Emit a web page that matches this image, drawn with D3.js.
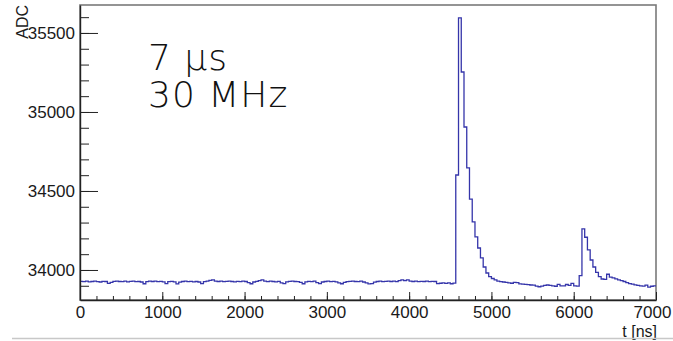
<!DOCTYPE html>
<html>
<head>
<meta charset="utf-8">
<script src="https://cdn.jsdelivr.net/npm/d3@7"></script>
<style>
  body { margin: 0; background: #fff; }
  svg { display: block; }
</style>
</head>
<body>
<svg id="chart"></svg>
<script>
let w = 673;
let h = 341;

// histogram: 210 bins over 0..7000 ns
const tMin = 0;
const tMax = 7000;
const adc = [
  33928, 33926, 33929, 33925, 33927, 33930, 33926, 33924, 33928, 33927,
  33915, 33922, 33928, 33930, 33927, 33926, 33929, 33925, 33928, 33930,
  33926, 33927, 33924, 33913, 33926, 33929, 33927, 33930, 33926, 33928,
  33925, 33914, 33926, 33928, 33925, 33912, 33923, 33927, 33929, 33926,
  33928, 33925, 33927, 33924, 33914, 33926, 33930, 33934, 33938, 33930,
  33927, 33929, 33926, 33928, 33930, 33927, 33925, 33928, 33926, 33929,
  33927, 33920, 33913, 33924, 33928, 33932, 33937, 33930, 33926, 33929,
  33927, 33925, 33928, 33919, 33914, 33925, 33928, 33930, 33927, 33926,
  33922, 33913, 33925, 33928, 33926, 33929, 33920, 33914, 33924, 33927,
  33929, 33926, 33928, 33925, 33919, 33913, 33922, 33926, 33928, 33930,
  33927, 33926, 33929, 33924, 33918, 33912, 33914, 33923, 33927, 33929,
  33926, 33928, 33930, 33927, 33929, 33926, 33933, 33937, 33932, 33938,
  33930, 33927, 33929, 33926, 33928, 33927, 33930, 33926, 33928, 33927,
  33914, 33916, 33919, 33915, 33918, 33913, 33917, 34601, 35595, 35253,
  34905, 34646, 34449, 34304, 34209, 34139, 34076, 34019, 33981, 33958,
  33946, 33937, 33930, 33926, 33924, 33922, 33918, 33916, 33922, 33920,
  33912, 33911, 33909, 33907, 33905, 33904, 33898, 33894, 33898, 33902,
  33905, 33903, 33899, 33897, 33909, 33900, 33899, 33908, 33902, 33915,
  33900, 33898, 33964, 34260, 34207, 34127, 34063, 34019, 33985, 33958,
  33943, 33940, 33973, 33955, 33950, 33944, 33938, 33932, 33927, 33920,
  33914, 33910, 33906, 33902, 33900, 33898, 33904, 33892, 33897, 33900
];

const yMajor = [34000, 34500, 35000, 35500];
const yMinor = d3.range(33900, 35700, 100);
const xMajor = [0, 1000, 2000, 3000, 4000, 5000, 6000, 7000];
const xMinor = d3.range(0, 7001, 200);
const yDomain = [33810, 35677];

const note = ['7 µs', '30 MHz'];

const margin = {left: 80, right: 17, top: 5, bottom: 41};
const pw = w - margin.left - margin.right;
const ph = h - margin.top - margin.bottom;

const svg = d3.select('#chart')
  .attr('width', w)
  .attr('height', h);

const xScale = d3.scaleLinear().domain([tMin, tMax]).range([0, pw]);
const yScale = d3.scaleLinear().domain(yDomain).range([ph, 0]);

const g = svg.append('g')
  .attr('transform', `translate(${margin.left},${margin.top})`);

// frame
g.append('rect')
  .attr('width', pw)
  .attr('height', ph)
  .attr('fill', 'none')
  .attr('stroke', '#7a7a7a')
  .attr('stroke-width', 1.6);

// histogram outline
const binW = (tMax - tMin) / adc.length;
const pts = adc.map((v, i) => [tMin + i * binW, v]);
pts.push([tMax, adc[adc.length - 1]]);

const line = d3.line()
  .x(d => xScale(d[0]))
  .y(d => yScale(d[1]))
  .curve(d3.curveStepAfter);

g.append('path')
  .datum(pts)
  .attr('d', line)
  .attr('fill', 'none')
  .attr('stroke', '#3535aa')
  .attr('stroke-width', 1.3);

// y axis (ticks pointing inward)
const yMinorAxis = g.append('g')
  .call(d3.axisLeft(yScale).tickValues(yMinor).tickSize(-9).tickFormat(''));
yMinorAxis.select('.domain').remove();

const yAxisGroup = g.append('g')
  .call(d3.axisLeft(yScale).tickValues(yMajor).tickSize(-18).tickPadding(5)
    .tickSizeOuter(0).tickFormat(d3.format('d')));

// x axis
const xMinorAxis = g.append('g')
  .attr('transform', `translate(0,${ph})`)
  .call(d3.axisBottom(xScale).tickValues(xMinor).tickSize(-4).tickFormat(''));
xMinorAxis.select('.domain').remove();

const xAxisGroup = g.append('g')
  .attr('transform', `translate(0,${ph})`)
  .call(d3.axisBottom(xScale).tickValues(xMajor).tickSize(-8).tickPadding(6)
    .tickSizeOuter(0).tickFormat(d3.format('d')));

g.selectAll('.tick line').attr('stroke', '#222');
g.selectAll('.domain').attr('stroke', '#222').attr('stroke-width', 1.4);
g.selectAll('.tick text')
  .attr('font-family', '"Liberation Sans", Arial, sans-serif')
  .attr('font-size', 17)
  .attr('fill', '#1a1a1a');

// keep the last x label inside the page
xAxisGroup.selectAll('.tick text')
  .filter(d => d === tMax)
  .attr('dx', -4);

// axis titles
svg.append('text')
  .attr('transform', `translate(28,${margin.top}) rotate(-90)`)
  .attr('text-anchor', 'end')
  .attr('font-family', '"Liberation Sans", Arial, sans-serif')
  .attr('font-size', 16)
  .attr('fill', '#1a1a1a')
  .text('ADC');

svg.append('text')
  .attr('x', margin.left + pw + 1)
  .attr('y', 337)
  .attr('text-anchor', 'end')
  .attr('font-family', '"Liberation Sans", Arial, sans-serif')
  .attr('font-size', 16)
  .attr('fill', '#1a1a1a')
  .text('t [ns]');

// annotation
svg.selectAll('.note')
  .data(note)
  .join('text')
  .attr('class', 'note')
  .attr('x', 148)
  .attr('y', (d, i) => 70 + i * 37)
  .attr('font-family', '"DejaVu Sans", sans-serif')
  .attr('font-weight', 300)
  .attr('font-size', 36)
  .attr('letter-spacing', 1)
  .attr('fill', '#111')
  .text(d => d);

// slide edge line below the plot
svg.append('line')
  .attr('x1', 12).attr('x2', w)
  .attr('y1', 338.5).attr('y2', 338.5)
  .attr('stroke', '#c8c8c8')
  .attr('stroke-width', 1.5);
</script>
</body>
</html>
